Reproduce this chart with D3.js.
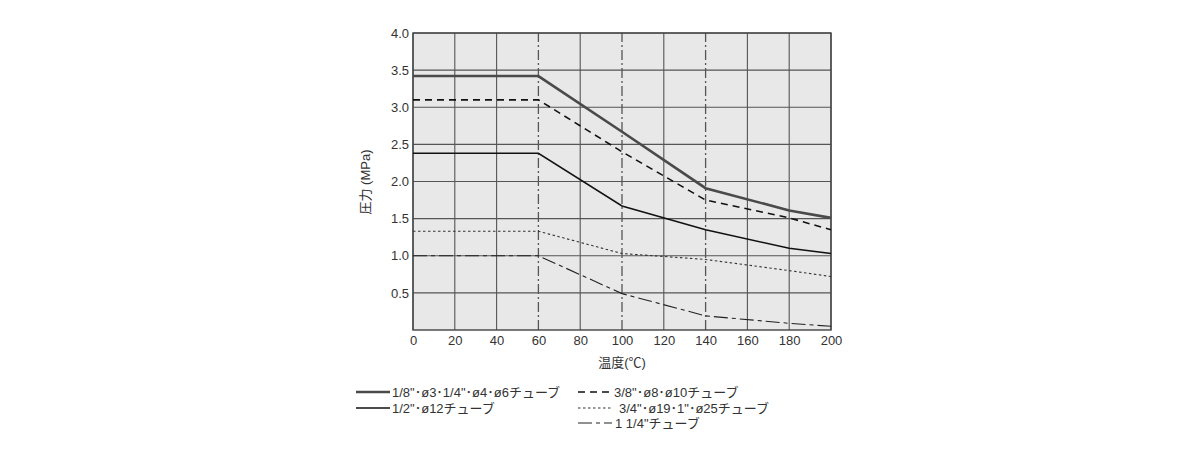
<!DOCTYPE html>
<html><head><meta charset="utf-8">
<script src="https://cdn.jsdelivr.net/npm/d3@7"></script>
<style>body{margin:0;background:#fff}svg{display:block}text{font-family:"Liberation Sans","Noto Sans CJK JP",sans-serif;fill:#333}</style>
</head><body>
<svg id="c" width="1198" height="450"></svg>
<script>
const temps = [0, 60, 100, 140, 180, 200];
const s1 = [3.42, 3.42, 2.67, 1.91, 1.61, 1.51];
const s2 = [3.10, 3.10, 2.40, 1.75, 1.51, 1.35];
const s3 = [2.38, 2.38, 1.67, 1.35, 1.10, 1.03];
const s4 = [1.33, 1.33, 1.03, 0.95, 0.80, 0.72];
const s5 = [1.00, 1.00, 0.49, 0.19, 0.09, 0.05];
const seriesNames = ['1/8"･ø3･1/4"･ø4･ø6チューブ','3/8"･ø8･ø10チューブ','1/2"･ø12チューブ','3/4"･ø19･1"･ø25チューブ','1 1/4"チューブ'];
const xTicks = [0,20,40,60,80,100,120,140,160,180,200];
const yTicks = [0.5,1.0,1.5,2.0,2.5,3.0,3.5,4.0];
const limitTemps = [60,100,140];

const styles = [
  {stroke:'#4a4a4a', w:2.6, dash:null},
  {stroke:'#111', w:1.6, dash:'7,5'},
  {stroke:'#111', w:1.5, dash:null},
  {stroke:'#333', w:1.1, dash:'2.5,2.5'},
  {stroke:'#222', w:1.1, dash:'14,4,4,4'}
];
const series = [s1,s2,s3,s4,s5];

const svg = d3.select('#c');
const x = d3.scaleLinear().domain([0,200]).range([413,831]);
const y = d3.scaleLinear().domain([0,4]).range([330,33]);

svg.append('rect').attr('x',x(0)).attr('y',y(4)).attr('width',x(200)-x(0)).attr('height',y(0)-y(4)).attr('fill','#e8e8e8');

// grid
svg.append('g').selectAll('line.v').data(xTicks.filter(t=>!limitTemps.includes(t))).join('line')
  .attr('x1',d=>x(d)).attr('x2',d=>x(d)).attr('y1',y(0)).attr('y2',y(4)).attr('stroke','#555').attr('stroke-width',1.1);
svg.append('g').selectAll('line.h').data(yTicks).join('line')
  .attr('x1',x(0)).attr('x2',x(200)).attr('y1',d=>y(d)).attr('y2',d=>y(d)).attr('stroke','#555').attr('stroke-width',1.1);
svg.append('g').selectAll('line.l').data(limitTemps).join('line')
  .attr('x1',d=>x(d)).attr('x2',d=>x(d)).attr('y1',y(0)).attr('y2',y(4)).attr('stroke','#555').attr('stroke-width',1.3).attr('stroke-dasharray','10,3,2,3');

// frame
svg.append('rect').attr('x',x(0)).attr('y',y(4)).attr('width',x(200)-x(0)).attr('height',y(0)-y(4)).attr('fill','none').attr('stroke','#444').attr('stroke-width',1.4);

// axes (labels only)
const xa = svg.append('g').attr('transform',`translate(0,${y(0)})`).call(d3.axisBottom(x).tickValues(xTicks).tickSize(0).tickPadding(6).tickFormat(d3.format('d')));
xa.select('.domain').remove();
xa.selectAll('text').attr('font-size',13).style('fill','#333').style('font-family','"Liberation Sans",sans-serif');
const ya = svg.append('g').attr('transform',`translate(${x(0)},0)`).call(d3.axisLeft(y).tickValues(yTicks).tickSize(0).tickPadding(4).tickFormat(d3.format('.1f')));
ya.select('.domain').remove();
ya.selectAll('text').attr('font-size',13).style('fill','#333').style('font-family','"Liberation Sans",sans-serif');

// lines
const line = d3.line().x((d,i)=>x(temps[i])).y(d=>y(d));
series.forEach((s,i)=>{
  svg.append('path').attr('d',line(s)).attr('fill','none').attr('stroke',styles[i].stroke)
    .attr('stroke-width',styles[i].w).attr('stroke-dasharray',styles[i].dash);
});

// axis titles
svg.append('text').attr('x',622).attr('y',367).attr('text-anchor','middle').attr('font-size',13).text('温度(℃)');
svg.append('text').attr('transform','translate(370,182) rotate(-90)').attr('text-anchor','middle').attr('font-size',13).text('圧力 (MPa)');

// legend
const leg = [
  {i:0, x1:356, x2:390, tx:392, y:392},
  {i:1, x1:578, x2:612, tx:614, y:392},
  {i:2, x1:356, x2:390, tx:392, y:408},
  {i:3, x1:578, x2:612, tx:619, y:408},
  {i:4, x1:578, x2:612, tx:615, y:423}
];
leg.forEach(l=>{
  const st = styles[l.i];
  svg.append('line').attr('x1',l.x1).attr('x2',l.x2).attr('y1',l.y).attr('y2',l.y).attr('stroke',st.stroke)
    .attr('stroke-width',st.w).attr('stroke-dasharray',st.dash);
  svg.append('text').attr('x',l.tx).attr('y',l.y).attr('dy','0.35em').attr('font-size',13).text(seriesNames[l.i]);
});
</script>
</body></html>
